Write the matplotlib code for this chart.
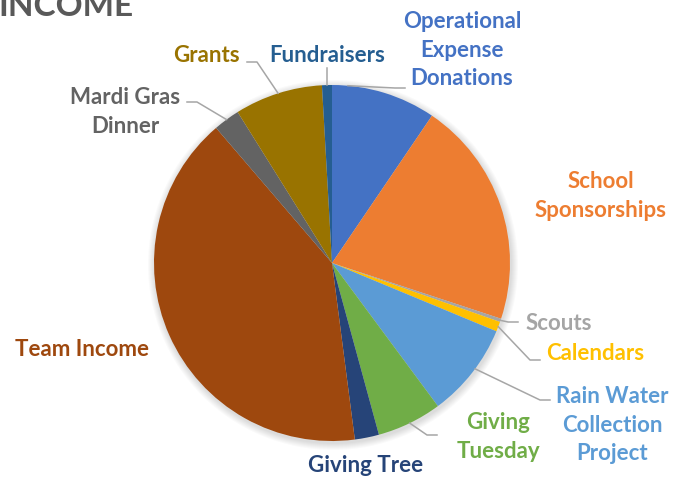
import numpy as np
import matplotlib.pyplot as plt
from matplotlib.patches import Circle

# slice order, clockwise from 12 o'clock
categories = ['Operational\nExpense\nDonations', 'School\nSponsorships', 'Scouts', 'Calendars',
              'Rain Water\nCollection\nProject', 'Giving\nTuesday', 'Giving Tree', 'Team Income',
              'Mardi Gras\nDinner', 'Grants', 'Fundraisers']
values = [9.5, 20.6, 0.3, 0.9, 8.6, 5.9, 2.2, 40.8, 2.4, 8.0, 0.9]
colors = ['#4472C4', '#ED7D31', '#A5A5A5', '#FFC000', '#5B9BD5', '#70AD47', '#264478',
          '#9E480E', '#636363', '#997300', '#255E91']

# label layout in pixel coords, leader line end (label side) and where on the wedge it starts
label_pos = [(462, 50), (601, 196), (559, 323), (595, 354), (612, 425), (498, 437),
             (366, 466), (82, 349), (125, 112), (206, 55), (327, 55)]
line_end = [(405, 88), None, (518, 322), (540, 360), (550, 400), (437, 435),
            None, None, (187, 102), (247, 62), (326, 68)]
anchor_frac = [0.15, None, 0.5, 0.5, 0.45, 0.5, None, None, 0.5, 0.5, 0.5]

cx, cy, r = 332, 263, 178

fig = plt.figure(figsize=(6.76, 4.79), dpi=100)
ax = fig.add_axes([0, 0, 1, 1])

# soft shadow
for i in range(7):
    ax.add_patch(Circle((cx + 1, cy + 2), r + 7 - i, color='#000000', alpha=0.018, lw=0, zorder=0))

wedges, _ = ax.pie(values, colors=colors, startangle=-90, counterclock=True,
                   center=(cx, cy), radius=r, wedgeprops=dict(linewidth=0), frame=True)
ax.set_xlim(0, 676)
ax.set_ylim(479, 0)
ax.set_aspect('equal')
ax.axis('off')

for w, lab, col, pos, end, fr in zip(wedges, categories, colors, label_pos, line_end, anchor_frac):
    ax.text(pos[0], pos[1], lab, color=col, fontsize=16, fontweight='bold', family='Lato',
            ha='center', va='center', linespacing=1.42)
    if end is None:
        continue
    th = np.radians(w.theta1 + fr * (w.theta2 - w.theta1))
    px, py = cx + r * np.cos(th), cy + r * np.sin(th)
    if lab == 'Fundraisers':
        xs, ys = [px, px], [py, end[1]]
    elif end[0] > cx:
        xs, ys = [px, end[0] - 10, end[0]], [py, end[1], end[1]]
    else:
        xs, ys = [px, end[0] + 10, end[0]], [py, end[1], end[1]]
    ax.plot(xs, ys, color='#A6A6A6', lw=1.1, zorder=1)

# title is cropped at the top edge in the original
ax.text(-2, 16, 'INCOME', color='#595959', fontsize=24, fontweight='bold', family='Lato',
        ha='left', va='baseline')

fig.savefig('out.png', dpi=100)
